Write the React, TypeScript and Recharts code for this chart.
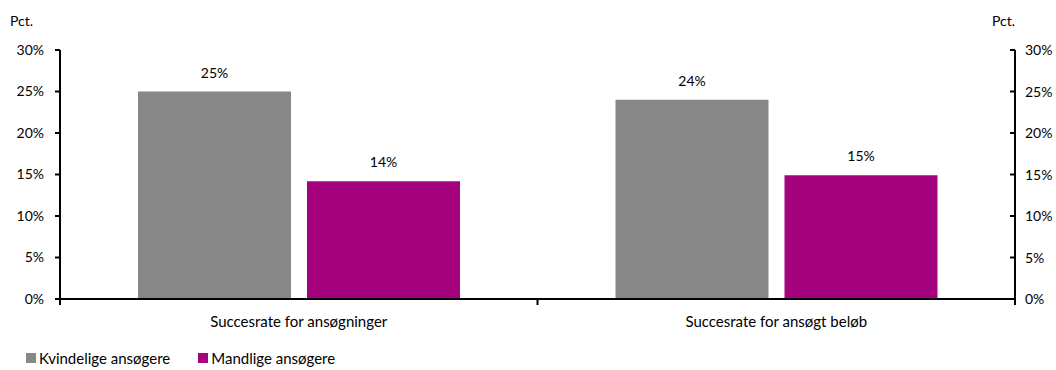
import {
  ComposedChart,
  Bar,
  Line,
  XAxis,
  YAxis,
  LabelList,
  Legend,
} from 'recharts'

// ── Data ──────────────────────────────────────────────────────────────────────

const categories = ['Succesrate for ansøgninger', 'Succesrate for ansøgt beløb']
const kvindelige = [25, 24]
const mandlige = [14.2, 14.9]
const yTicks = [0, 5, 10, 15, 20, 25, 30]

const data = categories.map((label, i) => ({
  label,
  kvinder: kvindelige[i],
  maend: mandlige[i],
}))

const FONT = 'Lato, "Open Sans", sans-serif'
const GRAY = '#878787'
const MAGENTA = '#a5027d'

// ── X axis tick: label centered, tick marks at category boundaries ────────────

function CategoryTick(props: any) {
  const { x, y, payload, index, width, visibleTicksCount } = props
  const count = visibleTicksCount || categories.length
  const band = (width || 955) / count
  return (
    <g>
      <line x1={x - band / 2} x2={x - band / 2} y1={y} y2={y + 6} stroke="#000" strokeWidth={2} />
      {index === count - 1 && (
        <line x1={x + band / 2} x2={x + band / 2} y1={y} y2={y + 6} stroke="#000" strokeWidth={2} />
      )}
      <text x={x} y={y + 28} textAnchor="middle" fill="#000" fontSize={15} fontFamily={FONT}>
        {payload.value}
      </text>
    </g>
  )
}

// right axis: tick marks point into the plot, labels outside
function RightTick(props: any) {
  const { x, y, payload } = props
  return (
    <g>
      <line x1={x - 5} x2={x} y1={y} y2={y} stroke="#000" strokeWidth={2} />
      <text x={x + 10} y={y + 5} textAnchor="start" fill="#000" fontSize={14} fontFamily={FONT}>
        {`${payload.value}%`}
      </text>
    </g>
  )
}

function LegendContent() {
  const items = [
    { name: 'Kvindelige ansøgere', color: GRAY },
    { name: 'Mandlige ansøgere', color: MAGENTA },
  ]
  return (
    <div style={{ display: 'flex', gap: 28, fontFamily: FONT, fontSize: 15, color: '#000' }}>
      {items.map((it) => (
        <div key={it.name} style={{ display: 'flex', alignItems: 'center', gap: 3 }}>
          <span style={{ width: 10, height: 10, background: it.color, display: 'inline-block' }} />
          <span>{it.name}</span>
        </div>
      ))}
    </div>
  )
}

export default function App() {
  return (
    <div style={{ position: 'absolute', left: 0, top: 0, width: 1056, height: 370, background: '#fff' }}>
      <div style={{ position: 'absolute', left: 10, top: 12, fontFamily: FONT, fontSize: 14 }}>Pct.</div>
      <div style={{ position: 'absolute', left: 992, top: 12, fontFamily: FONT, fontSize: 14 }}>Pct.</div>
      <ComposedChart
        width={1056}
        height={370}
        data={data}
        margin={{ top: 50, right: 0, left: 0, bottom: 23 }}
        barCategoryGap={76}
        barGap={16}
      >
        <XAxis
          dataKey="label"
          height={30}
          stroke="#000"
          strokeWidth={2}
          tickLine={false}
          tickSize={0}
          tickMargin={0}
          tick={<CategoryTick />}
          interval={0}
        />
        <YAxis
          yAxisId="left"
          orientation="left"
          width={60}
          domain={[0, 30]}
          ticks={yTicks}
          tickFormatter={(v) => `${v}%`}
          stroke="#000"
          strokeWidth={2}
          tickSize={5}
          tickMargin={11}
          tick={{ fill: '#000', fontSize: 14, fontFamily: FONT }}
        />
        <YAxis
          yAxisId="right"
          orientation="right"
          width={41}
          domain={[0, 30]}
          ticks={yTicks}
          stroke="#000"
          strokeWidth={2}
          tickLine={false}
          tickSize={0}
          tickMargin={0}
          tick={<RightTick />}
        />
        <Legend
          verticalAlign="bottom"
          align="left"
          content={<LegendContent />}
          wrapperStyle={{ left: 26, bottom: 3, width: 'auto' }}
        />
        <Bar yAxisId="left" dataKey="kvinder" name="Kvindelige ansøgere" fill={GRAY} barSize={153} isAnimationActive={false}>
          <LabelList
            dataKey="kvinder"
            position="top"
            offset={14}
            formatter={(v: any) => `${Math.round(v)}%`}
            style={{ fill: '#000', fontSize: 14, fontFamily: FONT }}
          />
        </Bar>
        <Bar yAxisId="left" dataKey="maend" name="Mandlige ansøgere" fill={MAGENTA} barSize={153} isAnimationActive={false}>
          <LabelList
            dataKey="maend"
            position="top"
            offset={14}
            formatter={(v: any) => `${Math.round(v)}%`}
            style={{ fill: '#000', fontSize: 14, fontFamily: FONT }}
          />
        </Bar>
        {/* invisible series so the secondary axis gets its ticks */}
        <Line
          yAxisId="right"
          dataKey="kvinder"
          stroke="none"
          dot={false}
          activeDot={false}
          legendType="none"
          isAnimationActive={false}
        />
      </ComposedChart>
    </div>
  )
}
